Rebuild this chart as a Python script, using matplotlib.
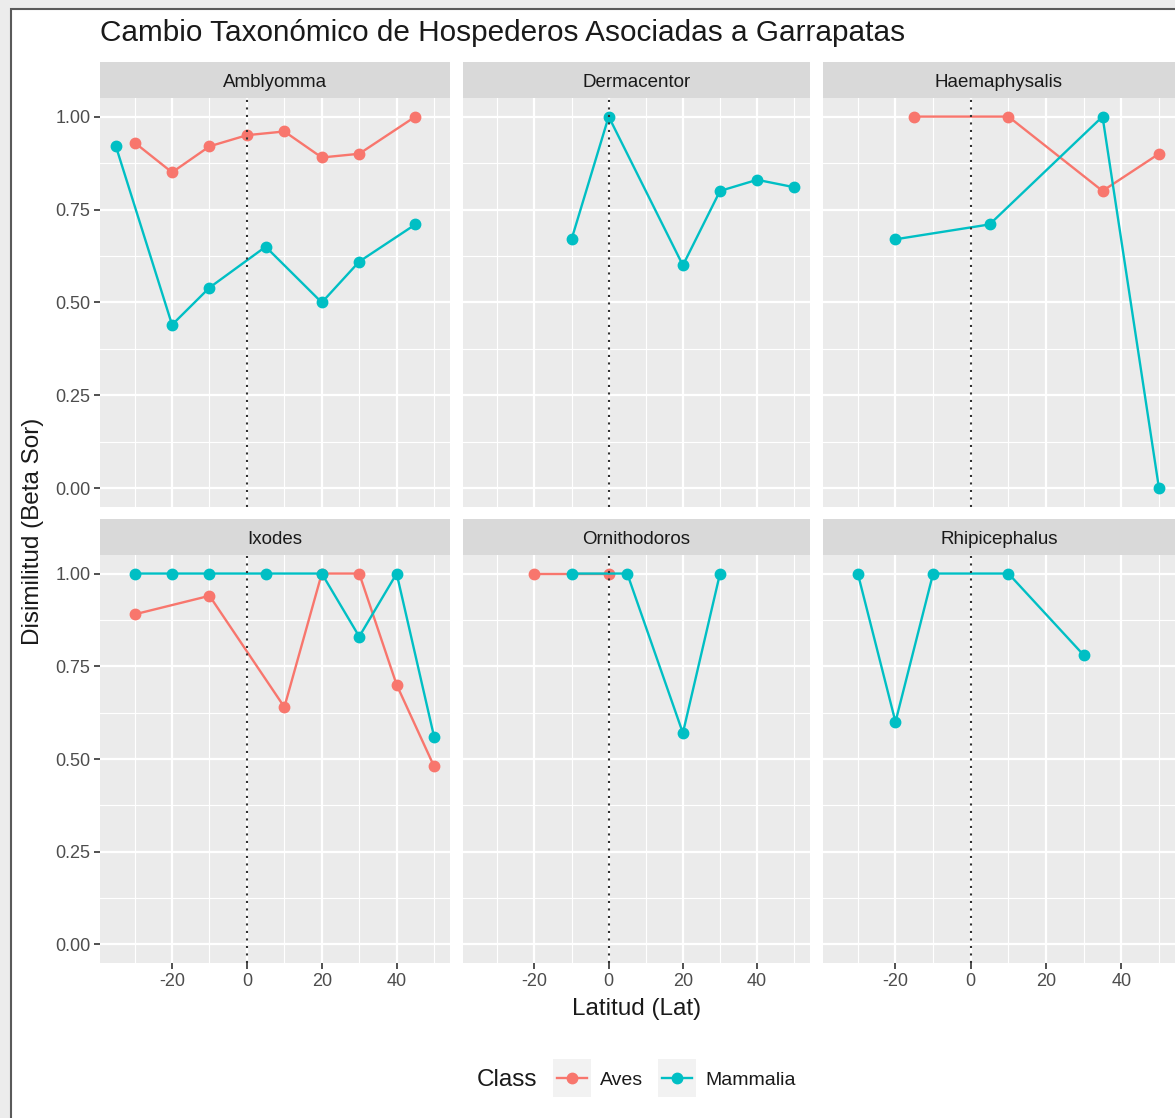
import matplotlib
matplotlib.use("Agg")
import matplotlib.pyplot as plt
from matplotlib.patches import Rectangle
from matplotlib.lines import Line2D

plt.rcParams['font.family'] = ['Liberation Sans', 'DejaVu Sans']
plt.rcParams['axes.unicode_minus'] = False

# datos (Lat, Beta Sor)
genera = ["Amblyomma", "Dermacentor", "Haemaphysalis",
          "Ixodes", "Ornithodoros", "Rhipicephalus"]

amblyomma_aves_lat = [-30, -20, -10, 0, 10, 20, 30, 45]
amblyomma_aves_sor = [0.93, 0.85, 0.92, 0.95, 0.96, 0.89, 0.90, 1.00]
amblyomma_mam_lat = [-35, -20, -10, 5, 20, 30, 45]
amblyomma_mam_sor = [0.92, 0.44, 0.54, 0.65, 0.50, 0.61, 0.71]

dermacentor_aves_lat = []
dermacentor_aves_sor = []
dermacentor_mam_lat = [-10, 0, 20, 30, 40, 50]
dermacentor_mam_sor = [0.67, 1.00, 0.60, 0.80, 0.83, 0.81]

haemaphysalis_aves_lat = [-15, 10, 35, 50]
haemaphysalis_aves_sor = [1.00, 1.00, 0.80, 0.90]
haemaphysalis_mam_lat = [-20, 5, 35, 50]
haemaphysalis_mam_sor = [0.67, 0.71, 1.00, 0.00]

ixodes_aves_lat = [-30, -10, 10, 20, 30, 40, 50]
ixodes_aves_sor = [0.89, 0.94, 0.64, 1.00, 1.00, 0.70, 0.48]
ixodes_mam_lat = [-30, -20, -10, 5, 20, 30, 40, 50]
ixodes_mam_sor = [1.00, 1.00, 1.00, 1.00, 1.00, 0.83, 1.00, 0.56]

ornithodoros_aves_lat = [-20, 0]
ornithodoros_aves_sor = [1.00, 1.00]
ornithodoros_mam_lat = [-10, 5, 20, 30]
ornithodoros_mam_sor = [1.00, 1.00, 0.57, 1.00]

rhipicephalus_aves_lat = []
rhipicephalus_aves_sor = []
rhipicephalus_mam_lat = [-30, -20, -10, 10, 30]
rhipicephalus_mam_sor = [1.00, 0.60, 1.00, 1.00, 0.78]

aves = [(amblyomma_aves_lat, amblyomma_aves_sor),
        (dermacentor_aves_lat, dermacentor_aves_sor),
        (haemaphysalis_aves_lat, haemaphysalis_aves_sor),
        (ixodes_aves_lat, ixodes_aves_sor),
        (ornithodoros_aves_lat, ornithodoros_aves_sor),
        (rhipicephalus_aves_lat, rhipicephalus_aves_sor)]
mammalia = [(amblyomma_mam_lat, amblyomma_mam_sor),
            (dermacentor_mam_lat, dermacentor_mam_sor),
            (haemaphysalis_mam_lat, haemaphysalis_mam_sor),
            (ixodes_mam_lat, ixodes_mam_sor),
            (ornithodoros_mam_lat, ornithodoros_mam_sor),
            (rhipicephalus_mam_lat, rhipicephalus_mam_sor)]

col_aves = "#F8766D"
col_mam = "#00BFC4"
lw = 1.7
ms = 7.5

W, H = 1175, 1118
fig = plt.figure(figsize=(W / 100, H / 100), dpi=100, facecolor="#ececec")

# marco de la captura
fig.add_artist(Rectangle((11 / W, -0.05), 1.1, 1 - 9 / H + 0.05,
                         transform=fig.transFigure, facecolor="white",
                         edgecolor="#5a5a5a", linewidth=1.5, zorder=-5))

def fx(px):
    return px / W

def fy(py):
    return 1 - py / H

cols = [(100, 450), (463, 810), (823, 1175)]
rows = [(62, 98, 507), (519, 555, 963)]

for i, g in enumerate(genera):
    r, c = divmod(i, 3)
    x0, x1 = cols[c]
    st, pt, pb = rows[r]
    ax = fig.add_axes([fx(x0), fy(pb), fx(x1 - x0), (pb - pt) / H])
    ax.set_facecolor("#EBEBEB")
    for s in ax.spines.values():
        s.set_visible(False)
    ax.set_xlim(-39.25, 54.25)
    ax.set_ylim(-0.05, 1.05)
    ax.set_xticks([-20, 0, 20, 40])
    ax.set_xticks([-30, -10, 10, 30, 50], minor=True)
    ax.set_yticks([0, 0.25, 0.5, 0.75, 1.0])
    ax.set_yticks([0.125, 0.375, 0.625, 0.875], minor=True)
    ax.grid(True, which="major", color="white", linewidth=1.6)
    ax.grid(True, which="minor", color="white", linewidth=0.8)
    ax.set_axisbelow(True)
    ax.tick_params(which="minor", length=0)
    ax.tick_params(which="major", length=4, width=1.2, color="#333333",
                   labelcolor="#4D4D4D", labelsize=13, pad=3)
    ax.set_yticklabels(["0.00", "0.25", "0.50", "0.75", "1.00"])
    if c != 0:
        ax.tick_params(axis="y", length=0, labelleft=False)
    if r != 1:
        ax.tick_params(axis="x", length=0, labelbottom=False)

    lat, sor = aves[i]
    if lat:
        ax.plot(lat, sor, color=col_aves, linewidth=lw, marker="o",
                markersize=ms, zorder=3)
    lat, sor = mammalia[i]
    if lat:
        ax.plot(lat, sor, color=col_mam, linewidth=lw, marker="o",
                markersize=ms, zorder=3)
    ax.axvline(0, color="#333333", linestyle=(0, (1, 2.6)), linewidth=1.5,
               zorder=4)

    # franja del facet
    sax = fig.add_axes([fx(x0), fy(pt), fx(x1 - x0), (pt - st) / H])
    sax.set_facecolor("#D9D9D9")
    sax.set_xticks([])
    sax.set_yticks([])
    for s in sax.spines.values():
        s.set_visible(False)
    sax.text(0.5, 0.44, g, ha="center", va="center", fontsize=13.5,
             color="#1A1A1A", transform=sax.transAxes)

fig.text(fx(100), fy(33), "Cambio Taxonómico de Hospederos Asociadas a Garrapatas",
         ha="left", va="center", fontsize=21.4, color="#1A1A1A")
fig.text(fx(33), fy(531), "Disimilitud (Beta Sor)", rotation=90,
         ha="center", va="center", fontsize=17.5, color="#1A1A1A")
fig.text(fx(637), fy(1009), "Latitud (Lat)", ha="center", va="center",
         fontsize=17.5, color="#1A1A1A")

# leyenda
fig.text(fx(507), fy(1080), "Class", ha="center", va="center",
         fontsize=17.5, color="#1A1A1A")
handles = [Line2D([], [], color=col_aves, linewidth=lw, marker="o", markersize=ms),
           Line2D([], [], color=col_mam, linewidth=lw, marker="o", markersize=ms)]
leg = fig.legend(handles, ["Aves", "Mammalia"], loc="center left",
                 bbox_to_anchor=(fx(557), fy(1080)), ncol=2, frameon=False,
                 fontsize=14, handlelength=1.55, handletextpad=0.65,
                 columnspacing=1.0, borderaxespad=0, borderpad=0)
for t in leg.get_texts():
    t.set_color("#1A1A1A")

fig.canvas.draw()
renderer = fig.canvas.get_renderer()
for h in leg.legend_handles:
    bb = h.get_window_extent(renderer)
    cx = (bb.x0 + bb.x1) / 2
    cy = (bb.y0 + bb.y1) / 2
    fig.add_artist(Rectangle(((cx - 19) / W, (cy - 19) / H), 38 / W, 38 / H,
                             transform=fig.transFigure, facecolor="#F2F2F2",
                             edgecolor="none", zorder=-1))

fig.savefig("out.png", dpi=100, facecolor=fig.get_facecolor())
